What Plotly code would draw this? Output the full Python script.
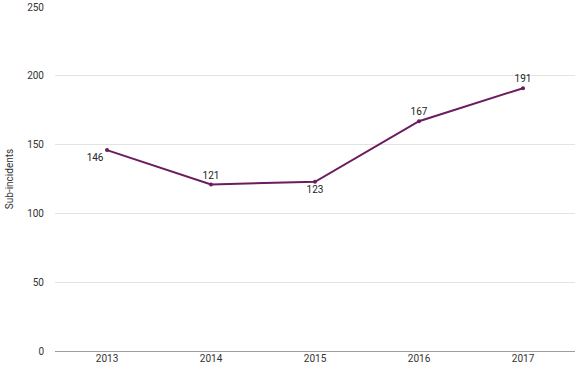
import plotly.graph_objects as go

years = ["2013", "2014", "2015", "2016", "2017"]
sub_incidents = [146, 121, 123, 167, 191]
label_positions = ["bottom left", "top center", "bottom center", "top center", "top center"]

fig = go.Figure()
fig.add_trace(go.Scatter(
    x=years, y=sub_incidents,
    mode="lines+markers+text",
    line=dict(color="#6b1b5e", width=2),
    marker=dict(color="#6b1b5e", size=4),
    text=[str(v) for v in sub_incidents],
    textposition=label_positions,
    textfont=dict(family="Roboto", size=10, color="#222222"),
    cliponaxis=False,
    hoverinfo="skip",
))

fig.update_layout(
    width=580, height=376,
    margin=dict(l=55, r=5, t=7, b=25, autoexpand=False),
    paper_bgcolor="white", plot_bgcolor="white",
    showlegend=False,
    font=dict(family="Roboto", size=10, color="#444444"),
)
fig.update_xaxes(
    type="category", range=[-0.5, 4.5], automargin=False,
    showgrid=False, showline=False, ticks="",
    tickfont=dict(family="Roboto", size=10, color="#333333"),
)
fig.update_yaxes(
    range=[0, 250], tickvals=[0, 50, 100, 150, 200, 250], automargin=False,
    showgrid=True, gridcolor="#e3e3e3", gridwidth=1,
    zeroline=True, zerolinecolor="#9e9e9e", zerolinewidth=1,
    showline=False, ticks="outside", ticklen=8, tickcolor="white",
    tickfont=dict(family="Roboto", size=10, color="#333333"),
    title=dict(text="Sub-incidents", font=dict(family="Roboto", size=10, color="#333333"), standoff=11),
)

fig.write_html("out.html", config={"displayModeBar": False},
               post_script="document.body.style.margin='0';")
